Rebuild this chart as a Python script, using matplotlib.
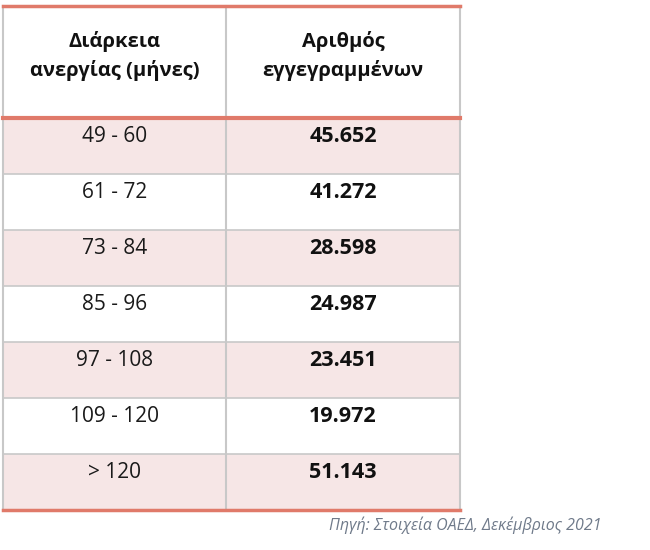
import matplotlib
matplotlib.use("Agg")
import matplotlib.pyplot as plt
from matplotlib.patches import Rectangle
import numpy as np

headers = ["Διάρκεια\nανεργίας (μήνες)", "Αριθμός\nεγγεγραμμένων"]
durations = ["49 - 60", "61 - 72", "73 - 84", "85 - 96", "97 - 108", "109 - 120", "> 120"]
counts = ["45.652", "41.272", "28.598", "24.987", "23.451", "19.972", "51.143"]
source = "Πηγή: Στοιχεία ΟΑΕΔ, Δεκέμβριος 2021"

plt.rcParams['font.family'] = ['Open Sans', 'DejaVu Sans']
fig = plt.figure(figsize=(6.5, 5.5), dpi=100)
ax = fig.add_axes([0, 0, 1, 1])
ax.set_xlim(0, 650); ax.set_ylim(550, 0); ax.axis('off')

x0, xm, x1 = 3, 226, 460
top, hdr, rh = 6, 118, 56
red = "#e07a6a"; grey = "#c8c8c8"; pink = "#f6e6e6"
n = len(durations)
bottom = hdr + n * rh

for i in range(n):
    y = hdr + i * rh
    if i % 2 == 0:
        ax.add_patch(Rectangle((x0, y), x1 - x0, rh, facecolor=pink, edgecolor='none', zorder=1))
    if i > 0:
        ax.plot([x0, x1], [y, y], color=grey, lw=1.2, zorder=2)
    ax.text((x0 + xm) / 2, y + 19, durations[i], ha='center', va='center', fontsize=15, color='#1a1a1a', zorder=3)
    ax.text((xm + x1) / 2, y + 19, counts[i], ha='center', va='center', fontsize=15.5, fontweight='bold', color='#111111', zorder=3)

for x in (x0, xm, x1):
    ax.plot([x, x], [top, bottom], color=grey, lw=1.5, zorder=2)
for y, w in ((top, 2.5), (hdr, 3), (bottom, 2.5)):
    ax.plot([x0, x1], [y, y], color=red, lw=w, zorder=4)

ax.text((x0 + xm) / 2, 56, headers[0], ha='center', va='center', fontsize=14.5, fontweight='bold', linespacing=1.45, color='#111111')
ax.text((xm + x1) / 2, 56, headers[1], ha='center', va='center', fontsize=14.5, fontweight='bold', linespacing=1.45, color='#111111')

ax.text(465, 525, source, ha='center', va='center', fontsize=11.5, style='italic', color='#6f7a8a')

fig.savefig("out.png", dpi=100)
